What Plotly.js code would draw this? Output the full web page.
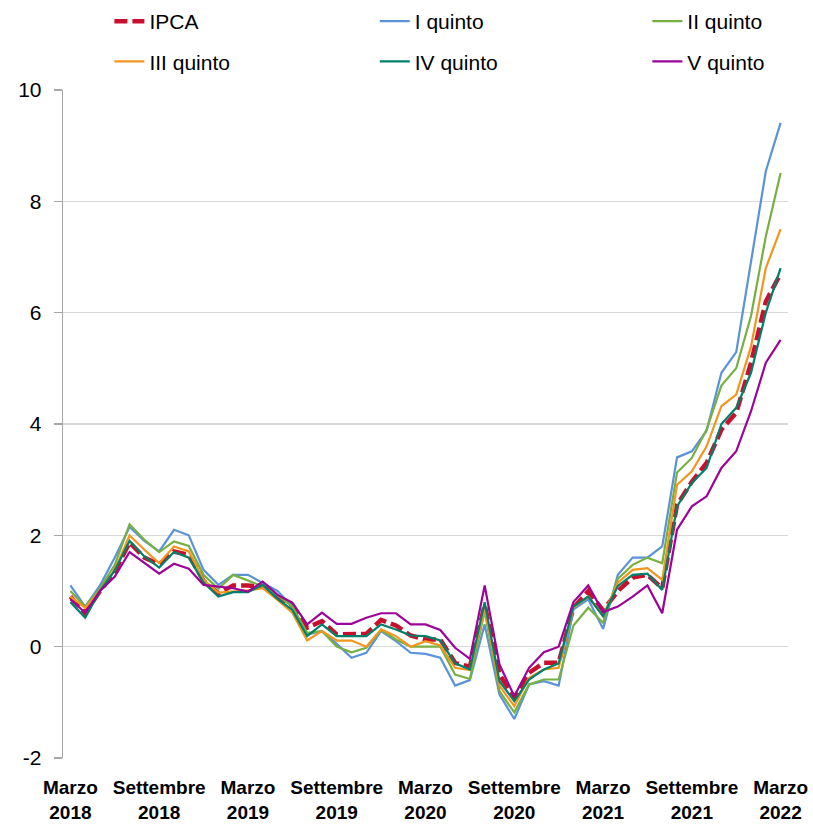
<!DOCTYPE html>
<html>
<head>
<meta charset="utf-8">
<script src="https://cdn.plot.ly/plotly-3.0.1.min.js"></script>
<style>html,body{margin:0;padding:0;background:#fff;}#chart{width:813px;height:825px;}</style>
</head>
<body>
<div id="chart"></div>
<script>
// Monthly categories, March 2018 - March 2022
const months = [
  "2018-03","2018-04","2018-05","2018-06","2018-07","2018-08","2018-09","2018-10","2018-11","2018-12",
  "2019-01","2019-02","2019-03","2019-04","2019-05","2019-06","2019-07","2019-08","2019-09","2019-10","2019-11","2019-12",
  "2020-01","2020-02","2020-03","2020-04","2020-05","2020-06","2020-07","2020-08","2020-09","2020-10","2020-11","2020-12",
  "2021-01","2021-02","2021-03","2021-04","2021-05","2021-06","2021-07","2021-08","2021-09","2021-10","2021-11","2021-12",
  "2022-01","2022-02","2022-03"
];

const ipca = [0.9,0.6,1.0,1.35,1.87,1.6,1.48,1.71,1.65,1.18,
  0.96,1.1,1.1,1.08,0.9,0.74,0.34,0.46,0.22,0.22,0.23,0.48,
  0.38,0.2,0.13,0.13,-0.29,-0.36,0.75,-0.5,-0.92,-0.47,-0.29,-0.29,
  0.7,1.0,0.65,1.0,1.24,1.29,1.05,2.55,2.96,3.3,3.9,4.2,
  5.1,6.2,6.7];

const quinto1 = [1.1,0.72,1.1,1.6,2.15,1.9,1.71,2.1,2.0,1.38,
  1.11,1.29,1.29,1.14,1.0,0.72,0.22,0.28,0.05,-0.2,-0.11,0.28,
  0.1,-0.11,-0.13,-0.2,-0.7,-0.6,0.4,-0.86,-1.3,-0.68,-0.62,-0.7,
  0.67,0.85,0.32,1.29,1.6,1.6,1.8,3.4,3.51,3.88,4.92,5.29,
  6.9,8.54,9.41];

const quinto2 = [1.0,0.72,1.05,1.47,2.2,1.92,1.7,1.89,1.81,1.29,
  1.04,1.29,1.19,1.08,0.92,0.72,0.25,0.28,0.0,-0.1,-0.02,0.3,
  0.13,0.0,0.0,0.0,-0.5,-0.58,0.64,-0.8,-1.18,-0.68,-0.59,-0.59,
  0.38,0.7,0.43,1.22,1.47,1.6,1.5,3.13,3.39,3.9,4.69,5.0,
  5.94,7.37,8.51];

const quinto3 = [0.9,0.7,1.0,1.38,2.0,1.74,1.5,1.8,1.71,1.2,
  0.97,0.99,1.01,1.05,0.84,0.61,0.11,0.28,0.11,0.11,0.0,0.31,
  0.19,0.0,0.1,0.02,-0.38,-0.42,0.67,-0.7,-1.07,-0.56,-0.41,-0.38,
  0.7,0.9,0.55,1.15,1.38,1.41,1.2,2.91,3.15,3.6,4.32,4.53,
  5.39,6.8,7.5];

const quinto4 = [0.8,0.52,1.0,1.37,1.9,1.62,1.42,1.7,1.6,1.15,
  0.9,0.98,0.98,1.11,0.86,0.66,0.19,0.4,0.19,0.19,0.19,0.4,
  0.31,0.2,0.19,0.11,-0.3,-0.41,0.8,-0.62,-0.98,-0.59,-0.41,-0.3,
  0.72,0.9,0.55,1.09,1.29,1.31,1.02,2.52,2.94,3.21,4.0,4.29,
  4.92,6.0,6.8];

const quinto5 = [0.85,0.61,1.0,1.26,1.7,1.5,1.31,1.49,1.4,1.11,
  1.08,1.05,0.99,1.17,0.93,0.79,0.4,0.61,0.41,0.41,0.52,0.6,
  0.6,0.4,0.4,0.3,-0.02,-0.22,1.1,-0.32,-0.89,-0.38,-0.1,0.0,
  0.8,1.1,0.62,0.72,0.9,1.1,0.6,2.1,2.52,2.7,3.21,3.51,
  4.23,5.1,5.51];

const seriesNames = ["IPCA","I quinto","II quinto","III quinto","IV quinto","V quinto"];
const tickMonths = ["2018-03","2018-09","2019-03","2019-09","2020-03","2020-09","2021-03","2021-09","2022-03"];
const tickLabels = ["Marzo<br>2018","Settembre<br>2018","Marzo<br>2019","Settembre<br>2019","Marzo<br>2020",
  "Settembre<br>2020","Marzo<br>2021","Settembre<br>2021","Marzo<br>2022"];
const yTickVals = [-2, 0, 2, 4, 6, 8, 10];
const yTickLabels = ["-2", "0", "2", "4", "6", "8", "10"];

const xIdx = months.map((m, i) => i);
const tickPos = tickMonths.map(m => months.indexOf(m));
const boundaryTicks = tickPos.map(p => p - 0.5);

const FONT = "Liberation Sans Narrow, Arial Narrow, Liberation Sans, Arial, sans-serif";

const colors = ["#C8102E","#5B93D9","#76B041","#F0961E","#00806A","#9C0399"];
const values = [ipca, quinto1, quinto2, quinto3, quinto4, quinto5];
// legend columns: IPCA/III quinto, I quinto/IV quinto, II quinto/V quinto
const legendOf = ["legend","legend2","legend3","legend","legend2","legend3"];

const traces = values.map((v, k) => ({
  type: "scatter",
  mode: "lines",
  x: xIdx,
  y: v,
  name: seriesNames[k],
  legend: legendOf[k],
  legendgroup: "g" + k,
  line: k === 0 ? {color: colors[k], width: 4.5, dash: "13px,5px"} : {color: colors[k], width: 2.2},
  hoverinfo: "skip"
}));

function legendAt(xPaper) {
  return {
    orientation: "v", x: xPaper, xanchor: "left", y: 1.1332, yanchor: "top",
    traceorder: "grouped", tracegroupgap: 10,
    font: {family: FONT, size: 21, color: "#000"}, bgcolor: "rgba(0,0,0,0)"
  };
}

const layout = {
  width: 813,
  height: 825,
  margin: {l: 63, r: 25, t: 90, b: 67, autoexpand: false},
  paper_bgcolor: "#ffffff",
  plot_bgcolor: "#ffffff",
  font: {family: FONT, color: "#000000", size: 19},
  showlegend: true,
  legend: legendAt(0.064),
  legend2: legendAt(0.430),
  legend3: legendAt(0.806),
  xaxis: {
    range: [-0.5, 48.5],
    tickmode: "array",
    tickvals: tickPos,
    ticktext: tickLabels,
    ticks: "",
    ticklabelstandoff: 16,
    showgrid: false,
    zeroline: false,
    showline: false,
    tickfont: {family: FONT, size: 19, color: "#000", weight: "bold"},
    fixedrange: true
  },
  xaxis2: {
    overlaying: "x",
    anchor: "free",
    position: 2/12,
    range: [-0.5, 48.5],
    tickmode: "array",
    tickvals: boundaryTicks,
    showticklabels: false,
    ticks: "outside",
    ticklen: 7,
    tickwidth: 1.3,
    tickcolor: "#8C8C8C",
    showline: true,
    linecolor: "#8C8C8C",
    linewidth: 1.5,
    showgrid: false,
    zeroline: false
  },
  yaxis: {
    range: [-2, 10],
    tickmode: "array",
    tickvals: yTickVals,
    ticktext: yTickLabels,
    showgrid: true,
    gridcolor: "#D9D9D9",
    gridwidth: 1.5,
    zeroline: false,
    showline: true,
    linecolor: "#A6A6A6",
    linewidth: 1.3,
    ticks: "outside",
    ticklen: 8,
    tickcolor: "#A6A6A6",
    tickwidth: 1.3,
    ticklabelstandoff: 8,
    tickfont: {family: FONT, size: 21, color: "#000"},
    fixedrange: true
  }
};

Plotly.newPlot("chart", traces, layout, {displayModeBar: false, staticPlot: true});
</script>
</body>
</html>
